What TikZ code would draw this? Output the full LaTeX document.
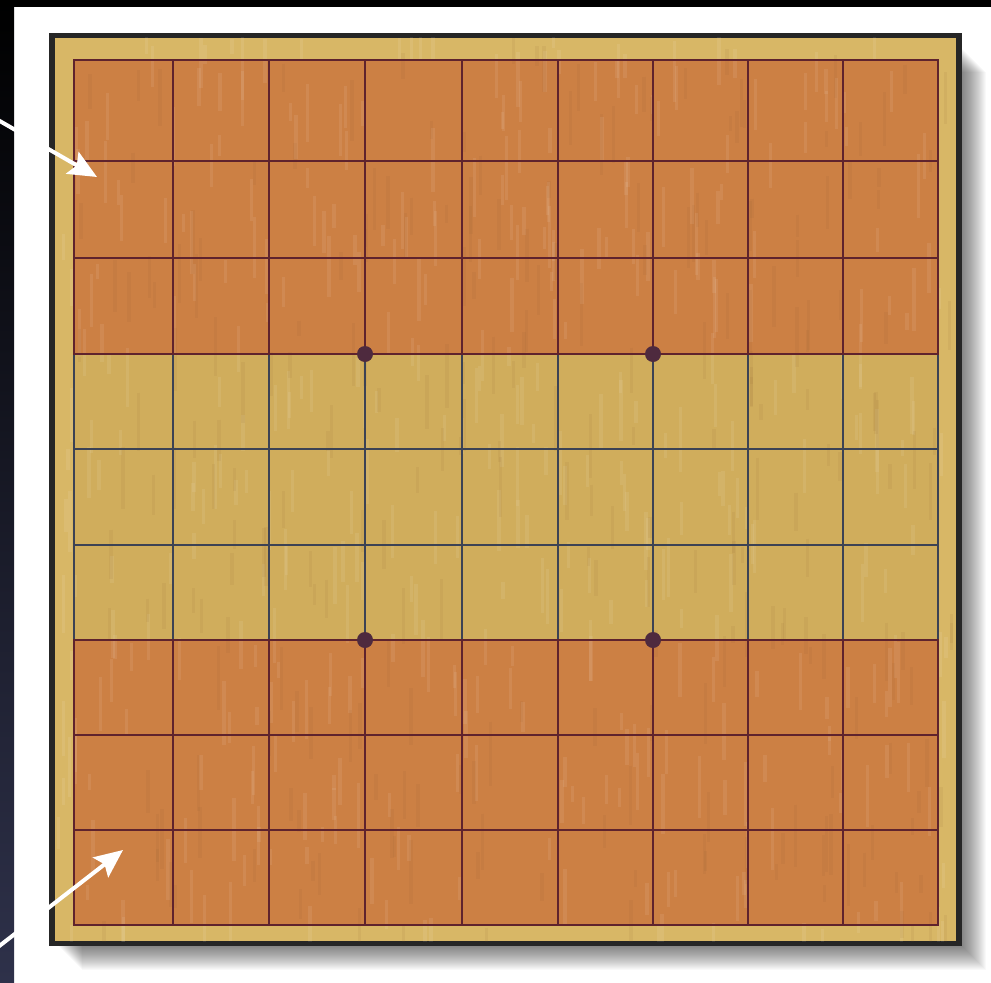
\documentclass[tikz,border=0pt]{standalone}
\usepackage{tikz}
\usetikzlibrary{positioning}
\usetikzlibrary{calc}
\usetikzlibrary{arrows.meta}
\usepackage{xcolor}

\definecolor{woodorange}{RGB}{204,128,68}
\definecolor{woodyellow}{RGB}{208,173,92}
\definecolor{woodframe}{RGB}{216,183,102}
\definecolor{redline}{RGB}{95,35,45}
\definecolor{blueline}{RGB}{60,66,84}
\definecolor{stardot}{RGB}{78,42,62}
\definecolor{slatebg}{RGB}{46,49,74}

\begin{document}
\begin{tikzpicture}[x=.03cm, y=-.03cm,
  redgrid/.style={draw=redline, line width=.07cm},
  bluegrid/.style={draw=blueline, line width=.07cm},
  grain/.style={line width=.1cm, opacity=.08},
  pointer/.style={white, line width=.12cm,
    -{Stealth[length=.85cm, width=.75cm, inset=.15cm]}}]

\useasboundingbox (0,0) rectangle (991,982);
\fill[white] (0,0) rectangle (991,982);
\shade[top color=black, bottom color=slatebg] (0,0) rectangle (14,982);
\fill[black] (0,0) rectangle (991,7);

% shadow of the board
\foreach \s in {1,...,24}
  \fill[black, opacity=.022] (58+\s,48+\s) rectangle (962+\s, 946+\s);

\fill[black!85] (49,33) rectangle (962,946);
\fill[woodframe] (55,38) rectangle (956,941);

\fill[woodorange] (74,60) rectangle (938,354);
\fill[woodyellow] (74,354) rectangle (938,640);
\fill[woodorange] (74,640) rectangle (938,925);

% wood grain
\begin{scope}
\clip (55,38) rectangle (956,941);
\pgfmathsetseed{11}
\foreach \i in {1,...,420} {
  \pgfmathsetmacro\gx{58+rnd*895}
  \pgfmathsetmacro\gy{30+rnd*900}
  \pgfmathsetmacro\gl{15+rnd*50}
  \draw[grain, white] (\gx,\gy) -- (\gx,\gy+\gl);
}
\foreach \i in {1,...,260} {
  \pgfmathsetmacro\gx{58+rnd*895}
  \pgfmathsetmacro\gy{30+rnd*900}
  \pgfmathsetmacro\gl{15+rnd*50}
  \draw[grain, brown!70!black] (\gx,\gy) -- (\gx,\gy+\gl);
}
\end{scope}

\foreach \x in {74,173,269,365,462,558,653,748,843,938} {
  \draw[redgrid] (\x,60) -- (\x,354);
  \draw[bluegrid] (\x,354) -- (\x,640);
  \draw[redgrid] (\x,640) -- (\x,925);
}
\foreach \y in {449,545}
  \draw[bluegrid] (74,\y) -- (938,\y);
\foreach \y in {60,161,258,354,640,735,830,925}
  \draw[redgrid, line cap=rect] (74,\y) -- (938,\y);

\foreach \x in {365,653}
  \foreach \y in {354,640}
    \fill[stardot] (\x,\y) circle (8);

\coordinate (upperstart) at (-2,120);
\coordinate (uppercell) at (97,177);
\coordinate (lowerstart) at (-2,947);
\coordinate (lowercell) at (123,850);

\draw[pointer] (upperstart) -- (uppercell);
\draw[pointer] (lowerstart) -- (lowercell);

\end{tikzpicture}
\end{document}
